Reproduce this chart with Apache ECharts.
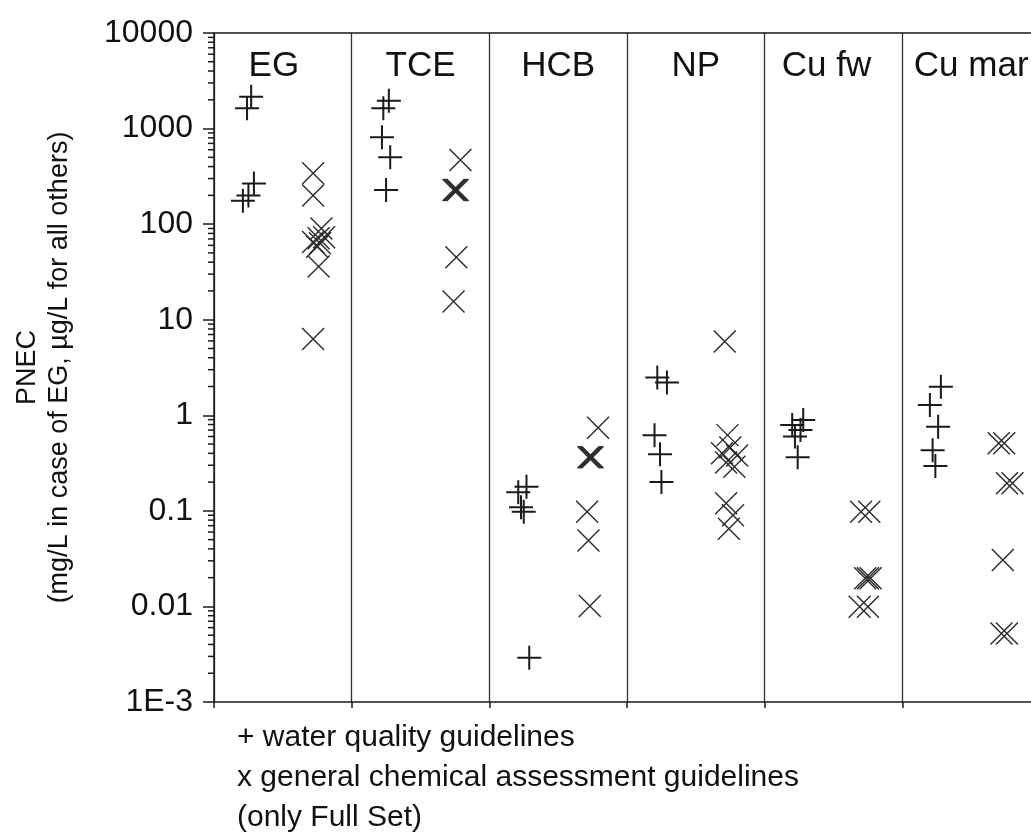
<!DOCTYPE html>
<html>
<head>
    <meta charset="utf-8">
    <title>PNEC</title>
    <script src="https://cdn.jsdelivr.net/npm/echarts@6/dist/echarts.min.js"></script>
</head>
<body style="margin:0;background:#fff">
<div id="main" style="width:1031px;height:833px;"></div>
<script type="text/javascript">
    // groups along x
    var categories = ['EG', 'TCE', 'HCB', 'NP', 'Cu fw', 'Cu mar'];
    var yTicks = [0.001, 0.01, 0.1, 1, 10, 100, 1000, 10000];

    // + water quality guidelines: [offset inside group, PNEC]
    var wqgEG = [[0.27, 2150], [0.24, 1630], [0.29, 267], [0.25, 199], [0.21, 176]];
    var wqgTCE = [[0.27, 1960], [0.23, 1630], [0.22, 811], [0.28, 500], [0.25, 228]];
    var wqgHCB = [[0.27, 0.179], [0.21, 0.157], [0.23, 0.109], [0.25, 0.098], [0.29, 0.0029]];
    var wqgNP = [[0.22, 2.49], [0.29, 2.2], [0.20, 0.62], [0.24, 0.39], [0.25, 0.2]];
    var wqgCuFw = [[0.28, 0.89], [0.20, 0.79], [0.26, 0.70], [0.22, 0.60], [0.24, 0.363]];
    var wqgCuMar = [[0.28, 1.99], [0.20, 1.28], [0.26, 0.76], [0.22, 0.43], [0.24, 0.295]];

    // x general chemical assessment guidelines (only Full Set)
    var gcaEG = [[0.72, 340], [0.72, 199], [0.78, 90], [0.76, 71], [0.80, 73], [0.72, 65], [0.77, 63], [0.75, 58], [0.76, 36], [0.72, 6.3]];
    var gcaTCE = [[0.79, 469], [0.75, 228], [0.76, 228], [0.74, 228], [0.77, 228], [0.76, 45], [0.74, 15.5]];
    var gcaHCB = [[0.79, 0.74], [0.72, 0.363], [0.73, 0.363], [0.74, 0.363], [0.75, 0.363], [0.71, 0.098], [0.72, 0.049], [0.73, 0.0101]];
    var gcaNP = [[0.71, 5.9], [0.73, 0.62], [0.75, 0.46], [0.69, 0.4], [0.80, 0.38], [0.72, 0.32], [0.78, 0.29], [0.72, 0.12], [0.77, 0.09], [0.74, 0.065]];
    var gcaCuFw = [[0.70, 0.098], [0.76, 0.098], [0.73, 0.0197], [0.75, 0.0197], [0.77, 0.0197], [0.69, 0.0099], [0.75, 0.0099]];
    var gcaCuMar = [[0.70, 0.51], [0.74, 0.51], [0.76, 0.194], [0.80, 0.194], [0.73, 0.0306], [0.72, 0.0052], [0.76, 0.0052]];

    var wqgAll = [wqgEG, wqgTCE, wqgHCB, wqgNP, wqgCuFw, wqgCuMar];
    var gcaAll = [gcaEG, gcaTCE, gcaHCB, gcaNP, gcaCuFw, gcaCuMar];

    function place(sets) {
        var out = [];
        sets.forEach(function (set, g) {
            set.forEach(function (p) { out.push([g + p[0], p[1]]); });
        });
        return out;
    }

    // minor ticks of the log axis (2..9 in every decade)
    var minorTicks = [];
    for (var k = -3; k < 4; k++) {
        for (var m = 2; m < 10; m++) minorTicks.push([0, m * Math.pow(10, k)]);
    }

    var font = 'Liberation Sans, Arial, Helvetica, sans-serif';
    var ink = '#1a1a1a';

    var myChart = echarts.init(document.getElementById('main'));
    myChart.setOption({
        backgroundColor: '#fff',
        animation: false,
        // the last panel runs past the right edge of the picture
        grid: {left: 214, top: 33, width: 826, height: 669, outerBoundsMode: 'none'},
        xAxis: [{
            type: 'value', min: 0, max: 6, interval: 1,
            axisLine: {lineStyle: {color: ink, width: 1.5}},
            axisTick: {show: true, length: 6, lineStyle: {color: ink, width: 1.5}},
            axisLabel: {show: false},
            splitLine: {show: true, lineStyle: {color: '#333', width: 1.3}}
        }, {
            type: 'category', position: 'top', data: categories,
            axisLine: {show: true, lineStyle: {color: ink, width: 1.5}},
            axisTick: {show: false},
            axisLabel: {
                inside: true, interval: 0, hideOverlap: false, margin: 16,
                fontSize: 35, color: '#111', fontFamily: font,
                formatter: function (v) {
                    if (v === 'EG') return '{eg|EG}';
                    if (v === 'Cu fw') return '{fw|Cu fw}';
                    return v;
                },
                rich: {
                    eg: {fontSize: 35, color: '#111', fontFamily: font, padding: [0, 18, 0, 0]},
                    fw: {fontSize: 35, color: '#111', fontFamily: font, padding: [0, 14, 0, 0]}
                }
            },
            splitLine: {show: false}
        }],
        yAxis: {
            type: 'log', logBase: 10, min: 0.001, max: 10000, interval: 1,
            name: 'PNEC\n(mg/L in case of EG, µg/L for all others)',
            nameLocation: 'middle', nameGap: 138,
            nameTextStyle: {fontSize: 27, lineHeight: 32, color: '#111', fontFamily: font},
            axisLine: {show: true, lineStyle: {color: ink, width: 1.5}},
            axisTick: {show: true, length: 11, lineStyle: {color: ink, width: 1.5}},
            axisLabel: {
                fontSize: 32, color: '#111', fontFamily: font, margin: 21,
                formatter: function (v) { return v < 0.002 ? '1E-3' : String(+v.toPrecision(6)); }
            },
            splitLine: {show: false}
        },
        graphic: [{
            type: 'text', left: 237, top: 718,
            style: {
                text: '+ water quality guidelines\nx general chemical assessment guidelines\n(only Full Set)',
                font: '30px ' + font, lineHeight: 40, fill: '#111'
            }
        }],
        series: [{
            name: 'minor ticks', type: 'custom', clip: false, silent: true,
            data: minorTicks,
            renderItem: function (params, api) {
                var p = api.coord([api.value(0), api.value(1)]);
                return {type: 'line', shape: {x1: p[0] - 6, y1: p[1], x2: p[0], y2: p[1]},
                    style: {stroke: ink, lineWidth: 1.5}};
            }
        }, {
            name: 'water quality guidelines', type: 'scatter',
            symbol: 'path://M0,5L10,5M5,0L5,10', symbolSize: 24,
            itemStyle: {color: 'none', borderColor: ink, borderWidth: 2, opacity: 1},
            data: place(wqgAll)
        }, {
            name: 'general chemical assessment guidelines', type: 'scatter',
            symbol: 'path://M0,0L10,10M10,0L0,10', symbolSize: 22,
            itemStyle: {color: 'none', borderColor: '#2a2a2a', borderWidth: 1.4, opacity: 1},
            data: place(gcaAll)
        }]
    });
</script>
</body>
</html>
